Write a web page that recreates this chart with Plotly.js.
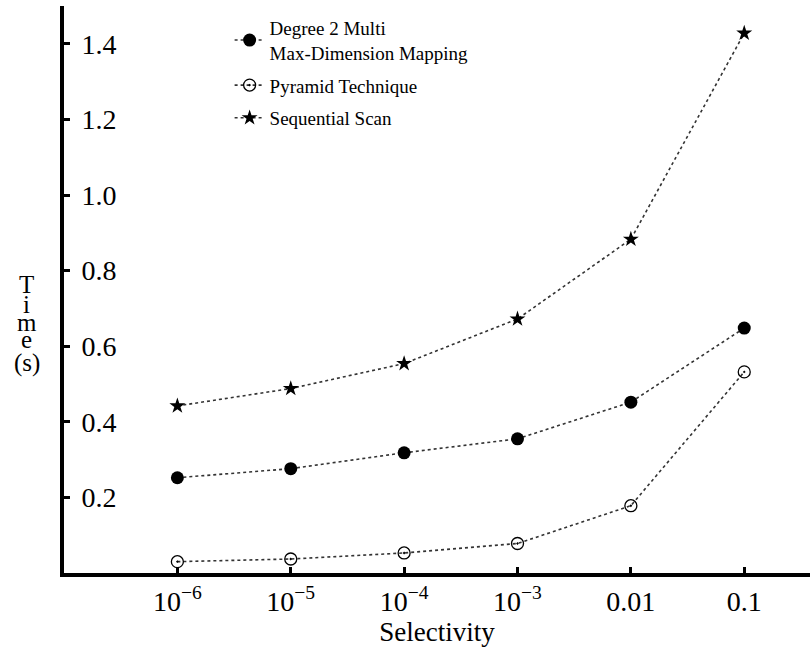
<!DOCTYPE html>
<html>
<head>
<meta charset="utf-8">
<script src="https://cdn.plot.ly/plotly-3.0.1.min.js"></script>
</head>
<body style="margin:0">
<div id="chart" style="width:810px;height:647px"></div>
<script>
const categories = ["10<sup>\u22126</sup>", "10<sup>\u22125</sup>", "10<sup>\u22124</sup>", "10<sup>\u22123</sup>", "0.01", "0.1"];
const degree2Multi = [0.252, 0.276, 0.318, 0.355, 0.452, 0.648];
const pyramid = [0.030, 0.037, 0.053, 0.078, 0.178, 0.532];
const sequential = [0.442, 0.488, 0.554, 0.672, 0.883, 1.428];
const yTicks = [0.2, 0.4, 0.6, 0.8, 1.0, 1.2, 1.4];
const yTickText = ["0.2", "0.4", "0.6", "0.8", "1.0", "1.2", "1.4"];
const seriesNames = ["Degree 2 Multi<br>Max-Dimension Mapping", "Pyramid Technique", "Sequential Scan"];

const xIdx = categories.map((c, i) => i);
const FONT = "Liberation Serif";
const lineStyle = {color: "#333", width: 1.6, dash: "dot"};

const traces = [
  {x: xIdx, y: degree2Multi, name: seriesNames[0], legendgroup: "a", mode: "lines+markers", line: lineStyle,
   marker: {symbol: "circle", size: 13, color: "#000"}},
  {x: xIdx, y: pyramid, name: seriesNames[1], legendgroup: "b", mode: "lines+markers", line: lineStyle,
   marker: {symbol: "circle-open-dot", size: 12, color: "#000", line: {width: 1.3, color: "#000"}}},
  {x: xIdx, y: sequential, name: seriesNames[2], legendgroup: "c", mode: "lines+markers", line: lineStyle,
   marker: {symbol: "star", size: 12, color: "#000", line: {width: 0}}}
];

const yLetters = ["T", "i", "m", "e", "(s)"];
const yLetterPos = [0.508, 0.473, 0.441, 0.411, 0.370];
const annotations = yLetters.map((t, i) => ({
  text: t, xref: "paper", yref: "paper", x: -0.05, y: yLetterPos[i],
  xanchor: "center", yanchor: "middle", showarrow: false,
  font: {family: FONT, size: 25, color: "#000"}
}));

const layout = {
  width: 810, height: 647,
  margin: {l: 64, r: 0, t: 6, b: 74},
  paper_bgcolor: "#fff", plot_bgcolor: "#fff",
  font: {family: FONT, color: "#000"},
  showlegend: true,
  legend: {x: 0.222, y: 0.995, xanchor: "left", yanchor: "top", traceorder: "grouped",
           font: {family: FONT, size: 19, color: "#000"}, bgcolor: "rgba(0,0,0,0)",
           tracegroupgap: 5},
  xaxis: {range: [-1, 5.58], tickmode: "array", tickvals: xIdx, ticktext: categories,
          showline: true, linewidth: 4, linecolor: "#000", showgrid: false, zeroline: false,
          ticks: "inside", ticklen: 6, tickwidth: 3, tickcolor: "#000",
          tickfont: {family: FONT, size: 28, color: "#000"},
          title: {text: "Selectivity", font: {family: FONT, size: 27, color: "#000"}, standoff: 4}},
  yaxis: {range: [0, 1.5], tickmode: "array", tickvals: yTicks, ticktext: yTickText,
          showline: true, linewidth: 4, linecolor: "#000", showgrid: false, zeroline: false,
          ticks: "inside", ticklen: 6, tickwidth: 3, tickcolor: "#000",
          ticklabelposition: "inside", ticklabelstandoff: 14,
          tickfont: {family: FONT, size: 28, color: "#000"}},
  annotations: annotations
};

function draw() {
  Plotly.newPlot("chart", traces, layout, {displayModeBar: false});
}
if (document.fonts && document.fonts.load) {
  document.fonts.load("28px 'Liberation Serif'", "0.1 Selectivity").then(draw, draw);
} else {
  draw();
}
</script>
</body>
</html>
